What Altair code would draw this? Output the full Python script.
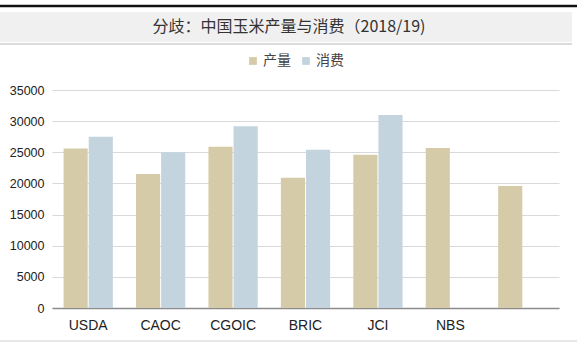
import altair as alt
import pandas as pd

categories = ["USDA", "CAOC", "CGOIC", "BRIC", "JCI", "NBS", "未知"]
production = [25600, 21500, 25900, 20900, 24600, 25700, 19600]
consumption = [27500, 25000, 29200, 25400, 31000, None, None]
series_names = ["产量", "消费"]
colors = ["#d6cba8", "#c3d4de"]
title_text = "分歧：中国玉米产量与消费（2018/19)"

rows = []
for c, p, q in zip(categories, production, consumption):
    rows.append({"cat": c, "series": series_names[0], "value": p})
    if q is not None:
        rows.append({"cat": c, "series": series_names[1], "value": q})
df = pd.DataFrame(rows)
one = pd.DataFrame({"t": [title_text]})

W, H = 507, 218
L, T = 52, 90

bars = alt.Chart(df).mark_bar().encode(
    x=alt.X("cat:N", sort=categories, title=None,
            scale=alt.Scale(paddingInner=0.32, paddingOuter=0.16),
            axis=alt.Axis(labelAngle=0, labelFontSize=14, labelColor="#222",
                          labelFont="Liberation Sans", labelPadding=10,
                          ticks=False, domainColor="#8c8c8c", domainWidth=1.5,
                          labelExpr="datum.value == '未知' ? '' : datum.value")),
    xOffset=alt.XOffset("series:N", sort=series_names,
                        scale=alt.Scale(paddingInner=0.04)),
    y=alt.Y("value:Q", title=None,
            scale=alt.Scale(domain=[0, 35000]),
            axis=alt.Axis(values=list(range(0, 35001, 5000)), format="d",
                          labelFontSize=12.5,
                          labelColor="#222", labelFont="Liberation Sans",
                          labelPadding=8, ticks=False, domain=False,
                          gridColor="#d9d9d9", gridWidth=1)),
    color=alt.Color("series:N", sort=series_names,
                    scale=alt.Scale(domain=series_names, range=colors),
                    legend=alt.Legend(title=None, orient="none", direction="horizontal",
                                      legendX=246 - L, legendY=62 - T - 8,
                                      symbolType="square", symbolSize=60,
                                      symbolStrokeWidth=0,
                                      labelFont="Noto Sans CJK SC", labelFontSize=14,
                                      labelColor="#444", columnPadding=8,
                                      labelOffset=3)),
)

band = alt.Chart(one).mark_rect(color="#f0f0f0").encode(
    x=alt.value(-L), x2=alt.value(572 - L),
    y=alt.value(12 - T), y2=alt.value(42 - T),
)
topline = alt.Chart(one).mark_rule(color="#111", strokeWidth=2.5).encode(
    x=alt.value(-L), x2=alt.value(577 - L), y=alt.value(6 - T),
)
underline = alt.Chart(one).mark_rule(color="#cfcfcf", strokeWidth=1.5).encode(
    x=alt.value(-L), x2=alt.value(572 - L), y=alt.value(44 - T),
)
bottomline = alt.Chart(one).mark_rule(color="#d0d0d0", strokeWidth=1).encode(
    x=alt.value(-L), x2=alt.value(577 - L), y=alt.value(341 - T),
)
title = alt.Chart(one).mark_text(font="Noto Sans CJK SC", fontSize=16, fontWeight="normal",
                                 color="#333", align="center", baseline="middle").encode(
    x=alt.value(289 - L), y=alt.value(27 - T), text="t:N",
)

chart = alt.layer(band, topline, underline, bottomline, title, bars).properties(
    width=W, height=H,
    background="white",
    autosize=alt.AutoSizeParams(type="none"),
    padding={"left": L, "top": T, "right": 577 - L - W, "bottom": 344 - T - H},
).configure_view(strokeWidth=0, stroke="transparent")

chart.save("out.html", embed_options={"renderer": "svg", "actions": False})
